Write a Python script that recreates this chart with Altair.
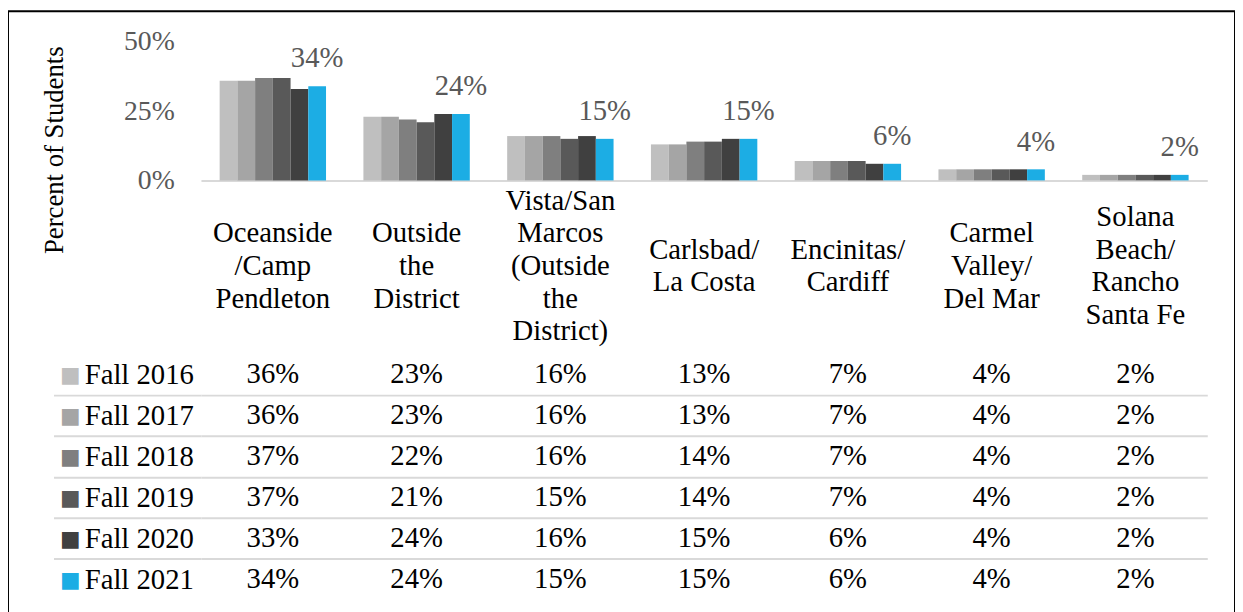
import altair as alt
import pandas as pd

# ---------------- data ----------------
years = ["Fall 2016", "Fall 2017", "Fall 2018", "Fall 2019", "Fall 2020", "Fall 2021"]
regions = [
    "Oceanside\n/Camp\nPendleton",
    "Outside\nthe\nDistrict",
    "Vista/San\nMarcos\n(Outside\nthe\nDistrict)",
    "Carlsbad/\nLa Costa",
    "Encinitas/\nCardiff",
    "Carmel\nValley/\nDel Mar",
    "Solana\nBeach/\nRancho\nSanta Fe",
]
fall_2016 = [36, 23, 16, 13, 7, 4, 2]
fall_2017 = [36, 23, 16, 13, 7, 4, 2]
fall_2018 = [37, 22, 16, 14, 7, 4, 2]
fall_2019 = [37, 21, 15, 14, 7, 4, 2]
fall_2020 = [33, 24, 16, 15, 6, 4, 2]
fall_2021 = [34, 24, 15, 15, 6, 4, 2]
y_ticks = [0, 25, 50]
colors = ["#bfbfbf", "#a5a5a5", "#7f7f7f", "#595959", "#404040", "#1cade4"]

series = [fall_2016, fall_2017, fall_2018, fall_2019, fall_2020, fall_2021]
rows = []
for yr, vals in zip(years, series):
    for reg, v in zip(regions, vals):
        rows.append({"region": reg, "year": yr, "value": v, "label": f"{v}%"})
df = pd.DataFrame(rows)

# ---------------- layout constants ----------------
FONT = "'Times New Roman', 'Liberation Serif', 'DejaVu Serif', serif"
W, H = 1240, 610
X0, X1 = 195, 1212          # plot band range
Y0, Y50 = 171, 31           # 0% and 50%
T0, T1 = 346.3, 594.7       # table rows
LH = 33                     # category label line height
LAB_C = 86                  # distance from baseline to label block centre

nlines = "length(split(datum.label, '\\n'))"
label_pad = {
    "condition": [
        {"test": f"{nlines} === {n}", "value": LAB_C - (n - 1) * LH / 2} for n in (1, 2, 3, 4)
    ],
    "value": LAB_C - 4 * LH / 2,
}

xenc = alt.X(
    "region:N",
    scale=alt.Scale(domain=regions, range=[X0, X1], paddingInner=0.26, paddingOuter=0.13),
    axis=alt.Axis(
        title=None, orient="bottom", offset=-(H - Y0), ticks=False,
        domainColor="#d9d9d9", domainWidth=2,
        labelExpr="split(datum.label, '\\n')", labelFont=FONT, labelFontSize=29,
        labelColor="black", labelAngle=0, labelBaseline="middle", labelPadding=label_pad,
        labelLineHeight=LH, labelOverlap=False, labelLimit=400,
    ),
)
xoff = alt.XOffset("year:N", scale=alt.Scale(domain=years, paddingInner=0, paddingOuter=0))
yscale = alt.Scale(domain=[0, 50], range=[Y0, Y50], nice=False)
tscale = alt.Scale(domain=years, range=[T0, T1], paddingInner=0, paddingOuter=0)

bars = alt.Chart(df).mark_bar().encode(
    x=xenc,
    xOffset=xoff,
    y=alt.Y(
        "value:Q", scale=yscale,
        axis=alt.Axis(
            values=y_ticks, labelExpr="datum.value + '%'", orient="left", offset=-168,
            ticks=False, domain=False, grid=False, labelPadding=0, labelFont=FONT,
            labelFontSize=28, labelColor="#595959", labelBaseline="middle",
            title="Percent of Students", titleFont=FONT, titleFontSize=27,
            titleFontWeight="normal", titleColor="black", titleAngle=270,
            titleX=-121, titleY=140, titleAlign="center", titleBaseline="middle",
        ),
    ),
    color=alt.Color("year:N", scale=alt.Scale(domain=years, range=colors), legend=None),
)

data_labels = alt.Chart(df).transform_filter(alt.datum.year == years[-1]).mark_text(
    dy=-28, baseline="middle", font=FONT, fontSize=29, color="#595959"
).encode(
    x=xenc,
    xOffset=xoff,
    y=alt.Y("value:Q", scale=yscale, axis=None),
    text="label:N",
)

hide_edges = {
    "condition": {"test": f"datum.extra || datum.value === '{years[-1]}'", "value": "transparent"},
    "value": "#d9d9d9",
}

table_text = alt.Chart(df).mark_text(
    font=FONT, fontSize=29, color="black", baseline="middle"
).encode(
    x=xenc,
    y=alt.Y(
        "year:N", scale=tscale,
        axis=alt.Axis(
            orient="left", offset=-X0, title=None, domain=False, tickBand="extent",
            ticks=True, tickSize=149, tickWidth=2, tickColor=hide_edges,
            grid=True, gridWidth=2, gridColor=hide_edges,
            labelAlign="left", labelPadding=-31, labelBaseline="middle",
            labelFont=FONT, labelFontSize=29, labelColor="black",
        ),
    ),
    text="label:N",
)

swatch_color = {
    "condition": [{"test": f"datum.value === '{y}'", "value": c} for y, c in zip(years[:-1], colors[:-1])],
    "value": colors[-1],
}
swatches = alt.Chart(df).mark_text(opacity=0).encode(
    x=xenc,
    y=alt.Y(
        "year:N", scale=tscale,
        axis=alt.Axis(
            orient="left", offset=-X0, title=None, domain=False, ticks=False, grid=False,
            labelExpr="'■'", labelAlign="center", labelPadding=132.5, labelBaseline="middle",
            labelFont="DejaVu Sans", labelFontSize=22, labelColor=swatch_color,
        ),
    ),
    text="label:N",
)

chart = alt.layer(bars, data_labels, table_text, swatches).resolve_scale(
    y="independent"
).properties(
    width=W, height=H, padding=0, autosize="none", background="white"
).configure_view(
    stroke="black", strokeWidth=2
)

chart.save("out.html", embed_options={"renderer": "svg", "actions": False})
